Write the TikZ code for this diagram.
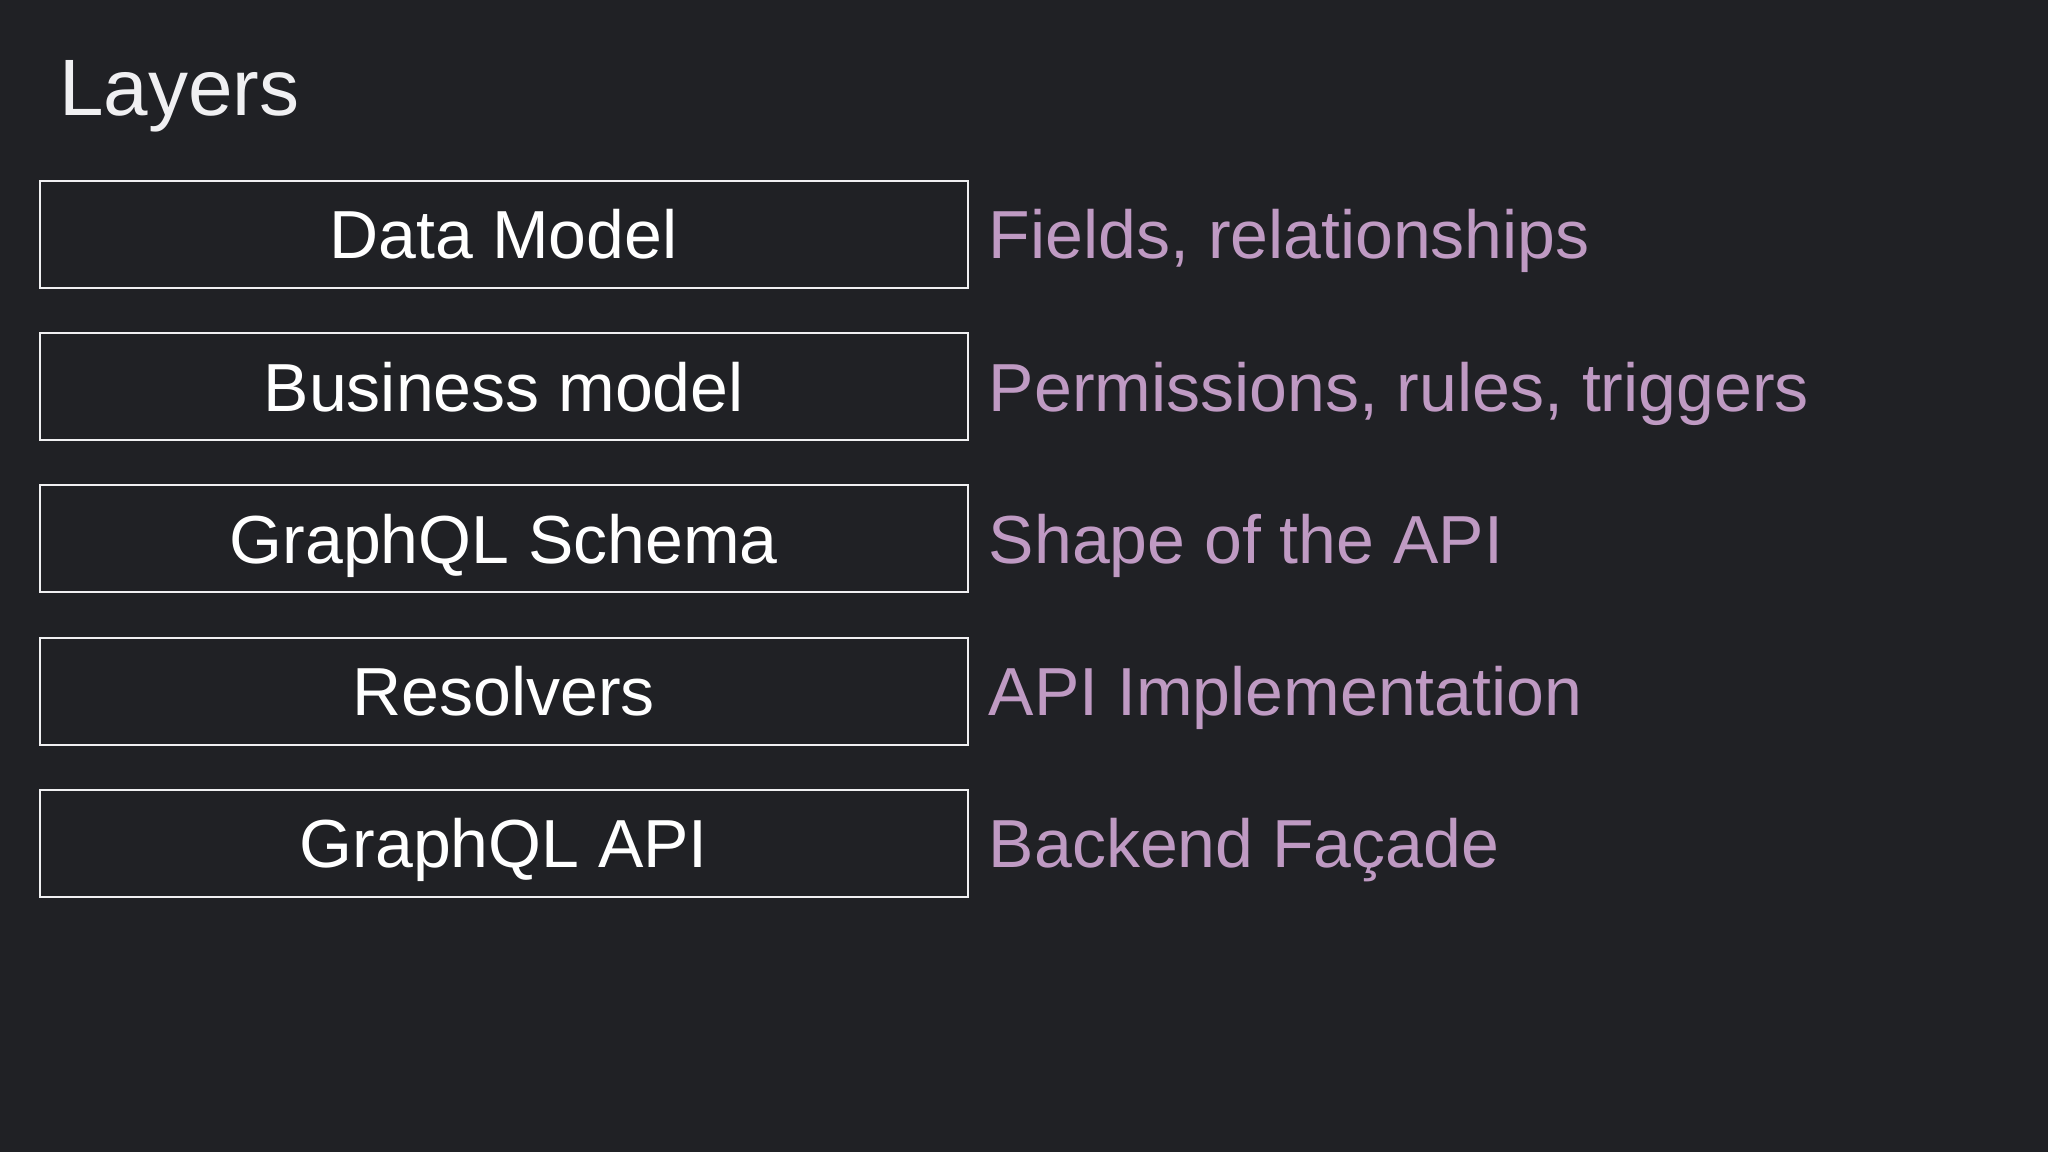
\documentclass[tikz,border=0pt]{standalone}
\usepackage{fontspec}
\setmainfont{Liberation Sans}
\usetikzlibrary{positioning}
\definecolor{slidebg}{HTML}{202125}
\definecolor{lilac}{HTML}{BF9AC3}
\definecolor{chalk}{HTML}{F0F0F2}

\begin{document}
\begin{tikzpicture}[x=0.5pt,y=-0.5pt,node distance=22.6pt,
  layer/.style={draw=chalk, line width=1pt, text=white, outer sep=0pt,
    font=\fontsize{34}{40}\selectfont, text height=24.4pt, text depth=0pt,
    minimum width=463.75pt, minimum height=53.5pt},
  role/.style={text=lilac, inner sep=0pt, anchor=west,
    font=\fontsize{34}{40}\selectfont, text height=24.4pt, text depth=0pt}]
  \fill[slidebg] (0,0) rectangle (2048,1152);
  \useasboundingbox (0,0) rectangle (2048,1152);
  \node[text=chalk, font=\fontsize{40}{46}\selectfont, inner sep=0pt, anchor=base west](title) at (59,115) {Layers};
  % the stack of layers
  \node[layer](datamodel) at (503.75,234.5) {Data Model};
  \node[layer](business)[below=of datamodel] {Business model};
  \node[layer](schema)[below=of business] {GraphQL Schema};
  \node[layer](resolvers)[below=of schema] {Resolvers};
  \node[layer](api)[below=of resolvers] {GraphQL API};
  % what each layer stands for
  \node[role](fields)[right=10.5pt of datamodel] {Fields, relationships};
  \node[role](permissions)[right=10.5pt of business] {Permissions, rules, triggers};
  \node[role](shape)[right=10.5pt of schema] {Shape of the API};
  \node[role](impl)[right=10.5pt of resolvers] {API Implementation};
  \node[role](facade)[right=10.5pt of api] {Backend Façade};
\end{tikzpicture}
\end{document}
